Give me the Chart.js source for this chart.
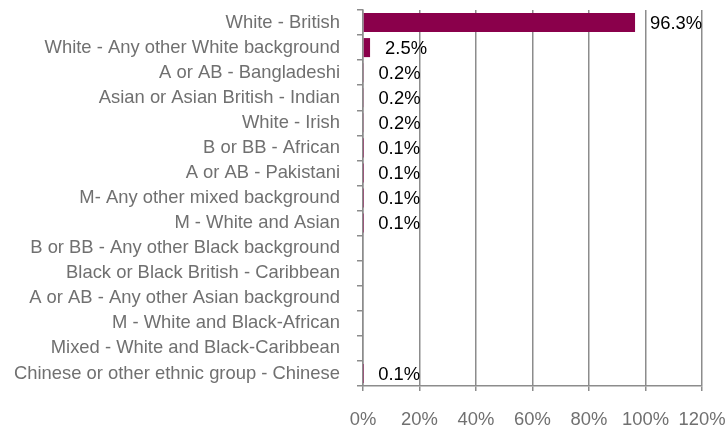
<!DOCTYPE html>
<html>
<head>
<meta charset="utf-8">
<script src="https://cdn.jsdelivr.net/npm/chart.js@4"></script>
<style>
  html, body { margin: 0; padding: 0; background: #fff; }
  #wrap { width: 728px; height: 427px; }
</style>
</head>
<body>
<div id="wrap"><canvas id="grafico" width="728" height="427"></canvas></div>
<script>
// categorias y valores
const categorias = [
  'White - British',
  'White - Any other White background',
  'A or AB - Bangladeshi',
  'Asian or Asian British - Indian',
  'White - Irish',
  'B or BB - African',
  'A or AB - Pakistani',
  'M- Any other mixed background',
  'M - White and Asian',
  'B or BB - Any other Black background',
  'Black or Black British - Caribbean',
  'A or AB - Any other Asian background',
  'M - White and Black-African',
  'Mixed - White and Black-Caribbean',
  'Chinese or other ethnic group - Chinese'
];
const porcentajes = [96.3, 2.5, 0.2, 0.2, 0.2, 0.1, 0.1, 0.1, 0.1, null, null, null, null, null, 0.1];
const ticksX = [0, 20, 40, 60, 80, 100, 120];

const gris = '#8c8c8c';
const fuente = "'Liberation Sans', Arial, sans-serif";
const tam = 18.4;

// etiquetas de datos a la derecha de cada barra
const etiquetas = {
  id: 'etiquetas',
  afterDatasetsDraw(chart) {
    const ctx = chart.ctx;
    const meta = chart.getDatasetMeta(0);
    ctx.save();
    ctx.font = tam + 'px ' + fuente;
    ctx.fillStyle = '#000';
    ctx.textAlign = 'left';
    ctx.textBaseline = 'middle';
    meta.data.forEach(function (barra, i) {
      const v = porcentajes[i];
      if (v === null) return;
      ctx.fillText(v.toFixed(1) + '%', barra.x + 15, barra.y + 1);
    });
    ctx.restore();
  }
};

new Chart(document.getElementById('grafico').getContext('2d'), {
  type: 'bar',
  data: {
    labels: categorias,
    datasets: [{
      data: porcentajes,
      backgroundColor: '#8a004b',
      borderWidth: 0,
      categoryPercentage: 1,
      barPercentage: 0.76
    }]
  },
  options: {
    indexAxis: 'y',
    responsive: false,
    animation: false,
    layout: { padding: { top: 10, right: 26, bottom: 0, left: 0 } },
    plugins: {
      legend: { display: false },
      tooltip: { enabled: false }
    },
    scales: {
      x: {
        min: 0,
        max: 120,
        afterBuildTicks(scale) {
          scale.ticks = ticksX.map(v => ({ value: v }));
        },
        afterFit(scale) {
          scale.height = 41;
          scale.paddingRight = 0;
          scale.paddingLeft = 0;
          scale.paddingTop = 0;
          scale.paddingBottom = 0;
        },
        ticks: {
          color: '#707070',
          font: { size: tam, family: fuente },
          padding: 18,
          maxRotation: 0,
          autoSkip: false,
          callback: v => v + '%'
        },
        grid: {
          color: gris,
          lineWidth: 1.5,
          tickLength: 5,
          drawOnChartArea: true
        },
        border: { color: gris, width: 1.5 }
      },
      y: {
        afterFit(scale) {
          scale.width = 363;
          scale.paddingTop = 0;
          scale.paddingBottom = 0;
        },
        ticks: {
          color: '#707070',
          font: { size: tam, family: fuente },
          padding: 17,
          autoSkip: false
        },
        grid: {
          color: gris,
          lineWidth: 1.5,
          tickLength: 6,
          offset: true,
          drawOnChartArea: false
        },
        border: { color: gris, width: 1.5 }
      }
    }
  },
  plugins: [etiquetas]
});
</script>
</body>
</html>
